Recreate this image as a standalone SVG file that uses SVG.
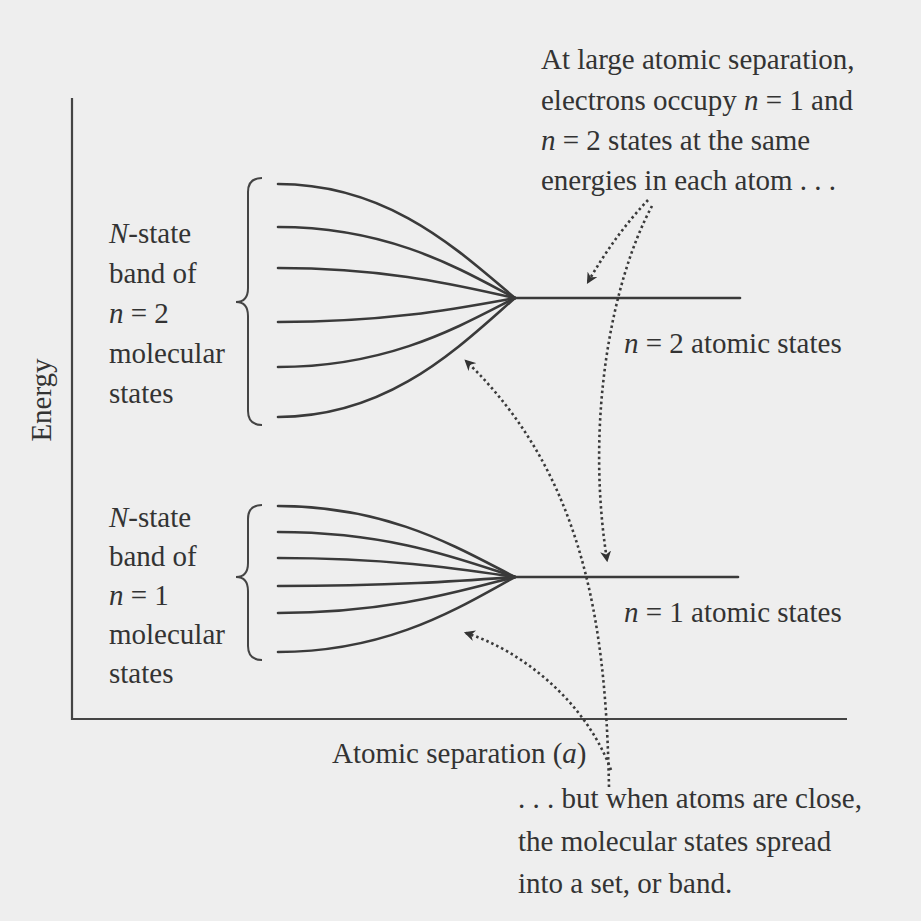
<svg xmlns="http://www.w3.org/2000/svg" width="921" height="921" viewBox="0 0 921 921">
<style>
text{font-family:"Liberation Serif","Times New Roman",serif;font-size:29px;fill:#333}
.it{font-style:italic}
.ax{stroke:#444;stroke-width:2.2;fill:none}
.lv{stroke:#3a3a3a;stroke-width:2.6;fill:none;stroke-linecap:round}
.br{stroke:#444;stroke-width:2;fill:none}
.dt{stroke:#3a3a3a;stroke-width:2.6;fill:none;stroke-dasharray:2.5 3}
</style>
<defs>
<marker id="ah" viewBox="0 0 10 10" refX="8" refY="5" markerWidth="11" markerHeight="11" markerUnits="userSpaceOnUse" orient="auto">
<path d="M0,0 L10,5 L0,10 L3,5 z" fill="#333"/>
</marker>
</defs>
<rect width="921" height="921" fill="#eeeeee"/>
<g id="axes">
<path class="ax" d="M72,98 L72,719 L847,719"/>
<text transform="translate(51,400) rotate(-90)" text-anchor="middle">Energy</text>
<text x="332" y="763">Atomic separation (<tspan class="it">a</tspan>)</text>
</g>
<g id="band2">
<path class="br" d="M262,178 Q248,178 248,192 L248,288 Q248,302 236,302 Q248,302 248,316 L248,411 Q248,425 262,425"/>
<path class="lv" d="M278,184 C390,184 460,252 515,298"/>
<path class="lv" d="M278,227 C390,227 460,269 515,298"/>
<path class="lv" d="M278,268 C390,268 460,286 515,298"/>
<path class="lv" d="M278,322 C390,322 460,308 515,298"/>
<path class="lv" d="M278,367 C390,367 460,326 515,298"/>
<path class="lv" d="M278,417 C390,417 460,346 515,298"/>
<path class="lv" d="M510,298 L740,298"/>
<text x="109" y="243"><tspan class="it">N</tspan>-state</text>
<text x="109" y="283">band of</text>
<text x="109" y="323"><tspan class="it">n</tspan> = 2</text>
<text x="109" y="363">molecular</text>
<text x="109" y="403">states</text>
<text x="624" y="353"><tspan class="it">n</tspan> = 2 atomic states</text>
</g>
<g id="band1">
<path class="br" d="M262,505 Q248,505 248,519 L248,563 Q248,577 236,577 Q248,577 248,591 L248,646 Q248,660 262,660"/>
<path class="lv" d="M278,506 C390,506 460,549 515,577"/>
<path class="lv" d="M278,532 C390,532 460,559 515,577"/>
<path class="lv" d="M278,558 C390,558 460,569 515,577"/>
<path class="lv" d="M278,586 C390,586 460,581 515,577"/>
<path class="lv" d="M278,613 C390,613 460,591 515,577"/>
<path class="lv" d="M278,652 C390,652 460,607 515,577"/>
<path class="lv" d="M510,577 L738,577"/>
<text x="109" y="527"><tspan class="it">N</tspan>-state</text>
<text x="109" y="566">band of</text>
<text x="109" y="605"><tspan class="it">n</tspan> = 1</text>
<text x="109" y="644">molecular</text>
<text x="109" y="683">states</text>
<text x="624" y="622"><tspan class="it">n</tspan> = 1 atomic states</text>
</g>
<g id="note-top">
<text x="541" y="69">At large atomic separation,</text>
<text x="541" y="110">electrons occupy <tspan class="it">n</tspan> = 1 and</text>
<text x="541" y="150"><tspan class="it">n</tspan> = 2 states at the same</text>
<text x="541" y="190">energies in each atom . . .</text>
</g>
<g id="note-bottom">
<text x="518" y="808">. . . but when atoms are close,</text>
<text x="518" y="851">the molecular states spread</text>
<text x="518" y="893">into a set, or band.</text>
</g>
<g id="connectors">
<path class="dt" d="M648,200 Q615,235 588,282" marker-end="url(#ah)"/>
<path class="dt" d="M652,206 C612,280 585,420 607,560" marker-end="url(#ah)"/>
<path class="dt" d="M609,787 C606,640 590,480 466,361" marker-end="url(#ah)"/>
<path class="dt" d="M611,770 C585,700 520,650 466,633" marker-end="url(#ah)"/>
</g>
</svg>
